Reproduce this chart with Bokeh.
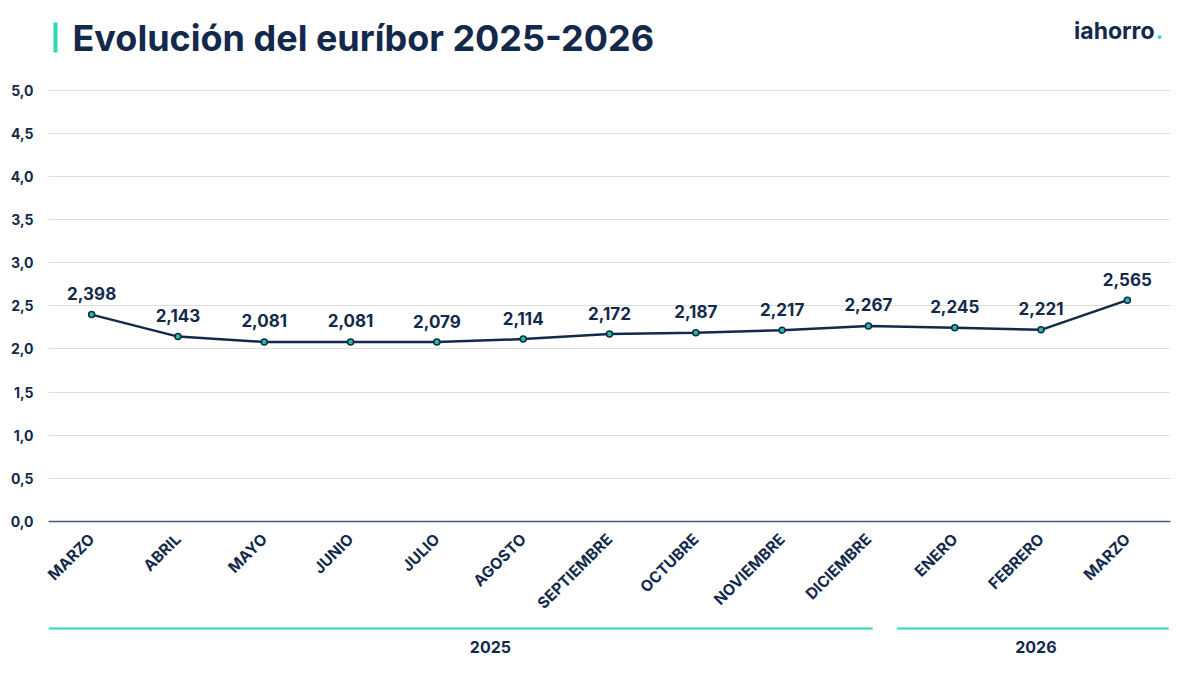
import math
from bokeh.plotting import figure
from bokeh.layouts import column
from bokeh.models import Range1d, FixedTicker, ColumnDataSource
from bokeh.core.properties import value
from bokeh.embed import file_html
from bokeh.resources import INLINE

# ---- data ----
months = ["MARZO", "ABRIL", "MAYO", "JUNIO", "JULIO", "AGOSTO", "SEPTIEMBRE",
          "OCTUBRE", "NOVIEMBRE", "DICIEMBRE", "ENERO", "FEBRERO", "MARZO"]
euribor = [2.398, 2.143, 2.081, 2.081, 2.079, 2.114, 2.172,
           2.187, 2.217, 2.267, 2.245, 2.221, 2.565]
value_labels = ["2,398", "2,143", "2,081", "2,081", "2,079", "2,114", "2,172",
                "2,187", "2,217", "2,267", "2,245", "2,221", "2,565"]
years = ["2025", "2026"]
year_first = [0, 10]
year_last = [9, 12]
y_ticks = [0.0, 0.5, 1.0, 1.5, 2.0, 2.5, 3.0, 3.5, 4.0, 4.5, 5.0]
y_tick_labels = ["0,0", "0,5", "1,0", "1,5", "2,0", "2,5", "3,0", "3,5", "4,0", "4,5", "5,0"]
title_text = "Evolución del euríbor 2025-2026"
brand = "iahorro"

NAVY = "#13294b"
TEAL = "#2fd9b5"
FONT = "Inter"
W = 1184
LEFT, RIGHT = 48, 14
TOP_H = 80
MAIN_H = 545
BOT_H = 659 - TOP_H - MAIN_H

x_idx = list(range(len(months)))
src = ColumnDataSource(dict(x=x_idx, y=euribor, lab=value_labels))
x_range = Range1d(-0.5, len(months) - 0.5)


def bare(height, xr, yr):
    f = figure(width=W, height=height, output_backend="svg", toolbar_location=None,
               x_range=xr, y_range=yr, x_axis_location=None, y_axis_location=None,
               min_border_left=LEFT, min_border_right=RIGHT,
               min_border_top=0, min_border_bottom=0)
    f.outline_line_color = None
    f.grid.grid_line_color = None
    f.background_fill_color = "white"
    return f


# ---- header (data coords = page pixels) ----
top = bare(TOP_H, Range1d(LEFT, W - RIGHT), Range1d(TOP_H, 0))
top.quad(left=[53], right=[57], top=[22], bottom=[52], fill_color=TEAL, line_color=None)
top.text(x=[72], y=[37], text=[title_text], text_font=value(FONT), text_font_style="bold",
         text_font_size="36px", text_color=NAVY, text_baseline="middle", text_align="left")
top.text(x=[1154], y=[30], text=[brand], text_font=value(FONT), text_font_style="bold",
         text_font_size="23px", text_color=NAVY, text_baseline="middle", text_align="right")
top.text(x=[1155], y=[30], text=["."], text_font=value(FONT), text_font_style="bold",
         text_font_size="23px", text_color=TEAL, text_baseline="middle", text_align="left")

# ---- main chart ----
p = figure(width=W, height=MAIN_H, output_backend="svg", toolbar_location=None,
           x_range=x_range, y_range=Range1d(0, 5.03),
           min_border_left=LEFT, min_border_right=RIGHT, min_border_top=7, min_border_bottom=104)
p.outline_line_color = None
p.background_fill_color = "white"

p.xgrid.grid_line_color = None
p.ygrid.grid_line_color = "#dedede"
p.ygrid.grid_line_width = 1
p.ygrid.ticker = FixedTicker(ticks=y_ticks)

p.yaxis.ticker = FixedTicker(ticks=y_ticks)
p.yaxis.major_label_overrides = {t: l for t, l in zip(y_ticks, y_tick_labels)}
p.yaxis.axis_line_color = None
p.yaxis.major_tick_line_color = None
p.yaxis.minor_tick_line_color = None
p.yaxis.major_label_text_font = FONT
p.yaxis.major_label_text_font_style = "bold"
p.yaxis.major_label_text_font_size = "14px"
p.yaxis.major_label_text_color = NAVY
p.yaxis.major_label_standoff = 9

p.xaxis.ticker = FixedTicker(ticks=x_idx)
p.xaxis.major_label_overrides = {i: m for i, m in zip(x_idx, months)}
p.xaxis.major_label_orientation = math.pi / 4
p.xaxis.axis_line_color = "#44597b"
p.xaxis.axis_line_width = 1.5
p.xaxis.major_tick_line_color = None
p.xaxis.minor_tick_line_color = None
p.xaxis.major_label_text_font = FONT
p.xaxis.major_label_text_font_style = "bold"
p.xaxis.major_label_text_font_size = "15.5px"
p.xaxis.major_label_text_color = NAVY
p.xaxis.major_label_standoff = 9

p.line("x", "y", source=src, line_color=NAVY, line_width=2.5)
p.scatter("x", "y", source=src, size=6, fill_color="#1fbf9f", line_color=NAVY, line_width=1.5)
p.text("x", "y", text="lab", source=src, text_align="center", text_baseline="middle",
       y_offset=-21, text_font=value(FONT), text_font_style="bold",
       text_font_size="17px", text_color=NAVY)

# ---- year brackets (y in page pixels) ----
y0 = TOP_H + MAIN_H
bot = bare(BOT_H, x_range, Range1d(659, y0))
seg_x0, seg_x1, mid = [], [], []
for i in range(len(years)):
    seg_x0.append(year_first[i] - 0.5 - (0.17 if i > 0 else 0.0))
    seg_x1.append(year_last[i] + (0.48 if i == len(years) - 1 else 0.05))
    mid.append((year_first[i] + year_last[i]) / 2 + (0.12 if i == 0 else -0.06))
bot.segment(x0=seg_x0, y0=[628] * len(years), x1=seg_x1, y1=[628] * len(years),
            line_color=TEAL, line_width=2)
bot.text(x=mid, y=[646] * len(years), text=years, text_font=value(FONT), text_font_style="bold",
         text_font_size="16px", text_color=NAVY, text_align="center", text_baseline="middle")

layout = column(top, p, bot, spacing=0)
open("out.html", "w").write(file_html(layout, INLINE))
